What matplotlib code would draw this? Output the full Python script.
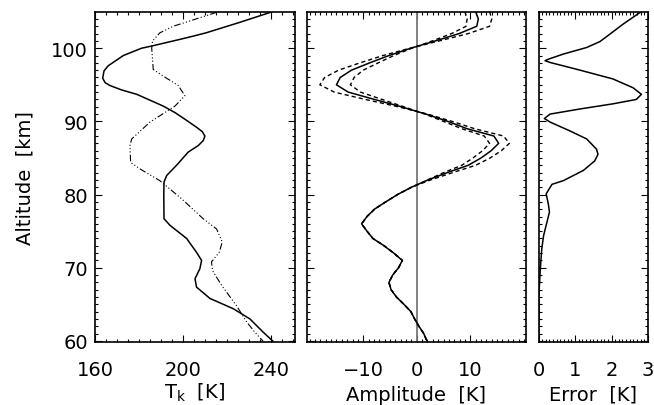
#!/usr/bin/env python3
"""
Three-panel altitude profile: kinetic temperature, wave amplitude (+/- envelope), and error.
Writes out.png (654x406).
"""
import matplotlib
matplotlib.use("Agg")
import matplotlib.pyplot as plt
from matplotlib.ticker import MultipleLocator, FixedLocator, NullFormatter

# ---- panel 1: temperature profiles ----
T_ALT = [104.95, 103.5, 102.1, 101.6, 101.2, 100.3, 100.0, 99.0, 97.6, 96.9, 95.9, 95.3, 94.9,
         94.3, 93.7, 92.1, 91.2, 90.3, 89.2, 88.6, 88.0, 87.4, 86.7, 85.8, 84.0, 82.6, 81.7, 80.0,
         76.7, 75.8, 74.0, 72.1, 71.0, 69.85, 68.5, 67.35, 65.8, 64.4, 63.0, 61.2, 59.95]
T_K = [240.3, 225.5, 210.5, 204.0, 198.5, 185.8, 181.2, 172.9, 166.0, 164.1, 163.5, 164.6, 166.8,
       172.1, 179.0, 191.0, 196.4, 200.9, 206.2, 208.8, 210.0, 209.3, 207.0, 202.4, 197.1, 192.6, 191.4, 191.3,
       191.4, 194.1, 201.7, 206.2, 208.5, 207.7, 205.5, 206.2, 212.3, 222.9, 230.5, 236.5, 241.0]
BG_ALT = [104.9, 103.0, 102.1, 101.0, 100.0, 97.1, 96.2, 94.9, 93.5, 92.1, 89.9, 87.6, 86.7,
          84.4, 83.5, 81.9, 79.4, 76.7, 75.3, 73.5, 72.1, 70.8, 69.6, 67.6, 64.8, 62.6, 61.2, 59.95]
BG_K = [215.3, 195.6, 189.5, 186.2, 185.8, 186.5, 191.0, 197.9, 200.9, 196.4, 185.0, 176.7, 175.9,
        176.2, 180.5, 189.5, 199.5, 209.2, 215.3, 217.9, 216.5, 213.0, 213.5, 217.6, 224.4, 229.0, 232.7, 236.5]

# ---- panel 2: amplitude and its envelope (1 km grid) ----
A_ALT = [105, 104, 103, 102, 101, 100, 99, 98, 97, 96, 95, 94, 93, 92, 91, 90, 89, 88, 87, 86,
         85, 84, 83, 82, 81, 80, 79, 78, 77, 76, 75, 74, 73, 72, 71, 70, 69, 68, 67, 66, 65,
         64, 63, 62, 61, 60]
AMP = [11.0, 11.5, 11.2, 7.9, 3.5, -1.1, -5.2, -8.8, -12.2, -14.3, -15.0, -12.8, -7.9, -2.9, 1.7,
       5.8, 9.4, 14.4, 15.3, 13.9, 12.0, 9.6, 5.7, 2.1, -1.0, -3.6, -5.8, -7.9, -9.3, -10.3, -9.3,
       -8.2, -6.1, -4.3, -2.7, -3.4, -4.5, -5.2, -4.8, -3.8, -2.4, -1.1, -0.4, 0.4, 1.3, 1.9]
AMP_OUTER = [13.6, 14.0, 13.6, 9.6, 4.2, -1.3, -6.3, -10.6, -14.6, -17.2, -18.1, -15.4, -9.6, -3.5,
             2.0, 6.6, 10.8, 16.2, 17.3, 15.8, 13.7, 11.0, 6.7, 2.6, -1.0, -3.6, -5.8, -7.9, -9.3,
             -10.3, -9.3, -8.2, -6.1, -4.3, -2.7, -3.4, -4.5, -5.2, -4.8, -3.8, -2.4, -1.1, -0.4,
             0.4, 1.3, 1.9]
AMP_INNER = [9.0, 9.4, 9.2, 6.5, 2.9, -0.9, -4.3, -7.2, -10.0, -11.7, -12.4, -10.5, -6.5, -2.4,
             1.5, 5.0, 8.4, 12.6, 13.6, 12.3, 10.5, 8.4, 5.0, 2.0, -1.0, -3.6, -5.8, -7.9, -9.3,
             -10.3, -9.3, -8.2, -6.1, -4.3, -2.7, -3.4, -4.5, -5.2, -4.8, -3.8, -2.4, -1.1, -0.4,
             0.4, 1.3, 1.9]

# ---- panel 3: error ----
E_ALT = [104.95, 103.3, 101.9, 100.9, 100.1, 99.2, 98.5, 98.3, 98.05, 97.0, 95.8, 94.6, 93.7, 93.0,
         92.4, 91.7, 91.0, 90.4, 89.9, 88.7, 87.6, 86.2, 85.5, 84.6, 83.3, 81.9, 81.4, 80.1, 78.7,
         77.6, 76.2, 74.4, 72.6, 69.85, 67.1, 63.0, 59.95]
ERR = [2.8, 2.32, 1.95, 1.68, 1.32, 0.68, 0.27, 0.18, 0.32, 1.14, 2.04, 2.59, 2.82, 2.68,
       2.04, 1.14, 0.32, 0.16, 0.32, 0.86, 1.32, 1.59, 1.63, 1.54, 1.23, 0.68, 0.37, 0.21, 0.27,
       0.30, 0.23, 0.14, 0.09, 0.05, 0.02, 0.01, 0.01]

YLIM = (59.85, 104.95)
FS = 14

plt.rcParams["font.family"] = ["DejaVu Sans"]
plt.rcParams["mathtext.fontset"] = "dejavusans"

fig = plt.figure(figsize=(6.54, 4.06), dpi=100)
W, H = 654.0, 406.0
bottom, top = 343.0, 13.0
def box(x0, x1):
    return [x0 / W, (H - bottom) / H, (x1 - x0) / W, (bottom - top) / H]

ax1 = fig.add_axes(box(95, 295))
ax2 = fig.add_axes(box(307, 526))
ax3 = fig.add_axes(box(538.5, 648))

def style(ax, show_y):
    ax.set_ylim(*YLIM)
    ax.yaxis.set_major_locator(MultipleLocator(10))
    ax.yaxis.set_minor_locator(MultipleLocator(1))
    ax.tick_params(which="both", direction="in", top=True, right=True, labelsize=FS,
                   width=0.8, colors="black")
    ax.tick_params(which="major", length=5)
    ax.tick_params(which="minor", length=2.5)
    ax.tick_params(axis="x", pad=13)
    ax.tick_params(axis="y", pad=5)
    if not show_y:
        ax.yaxis.set_major_formatter(NullFormatter())
    for s in ax.spines.values():
        s.set_linewidth(1.2)

# ---- panel 1 ----
ax1.plot(T_K, T_ALT, color="black", lw=1.1)
ax1.plot(BG_K, BG_ALT, color="black", lw=0.8, dashes=(6, 2, 1, 2, 1, 2, 1, 2))
ax1.set_xlim(160, 251)
ax1.xaxis.set_major_locator(FixedLocator([160, 200, 240]))
ax1.xaxis.set_minor_locator(MultipleLocator(5))
style(ax1, True)
ax1.set_ylabel("Altitude  [km]", fontsize=FS, labelpad=12)
ax1.set_xlabel(r"T$_{\rm k}$  [K]", fontsize=FS, labelpad=1)

# ---- panel 2 ----
ax2.axvline(0, color="#777777", lw=1.3)
ax2.plot(AMP, A_ALT, color="black", lw=1.1)
ax2.plot(AMP_OUTER, A_ALT, color="black", lw=1.0, dashes=(3, 2.2))
ax2.plot(AMP_INNER, A_ALT, color="black", lw=1.0, dashes=(3, 2.2))
ax2.set_xlim(-20.5, 20.4)
ax2.xaxis.set_major_locator(FixedLocator([-10, 0, 10]))
ax2.xaxis.set_minor_locator(MultipleLocator(1))
style(ax2, False)
ax2.set_xlabel("Amplitude  [K]", fontsize=FS, labelpad=4)

# ---- panel 3 ----
ax3.plot(ERR, E_ALT, color="black", lw=1.1)
ax3.set_xlim(0, 3)
ax3.xaxis.set_major_locator(MultipleLocator(1))
ax3.xaxis.set_minor_locator(MultipleLocator(0.1))
style(ax3, False)
ax3.set_xlabel("Error  [K]", fontsize=FS, labelpad=4)

fig.savefig("out.png", dpi=100)
